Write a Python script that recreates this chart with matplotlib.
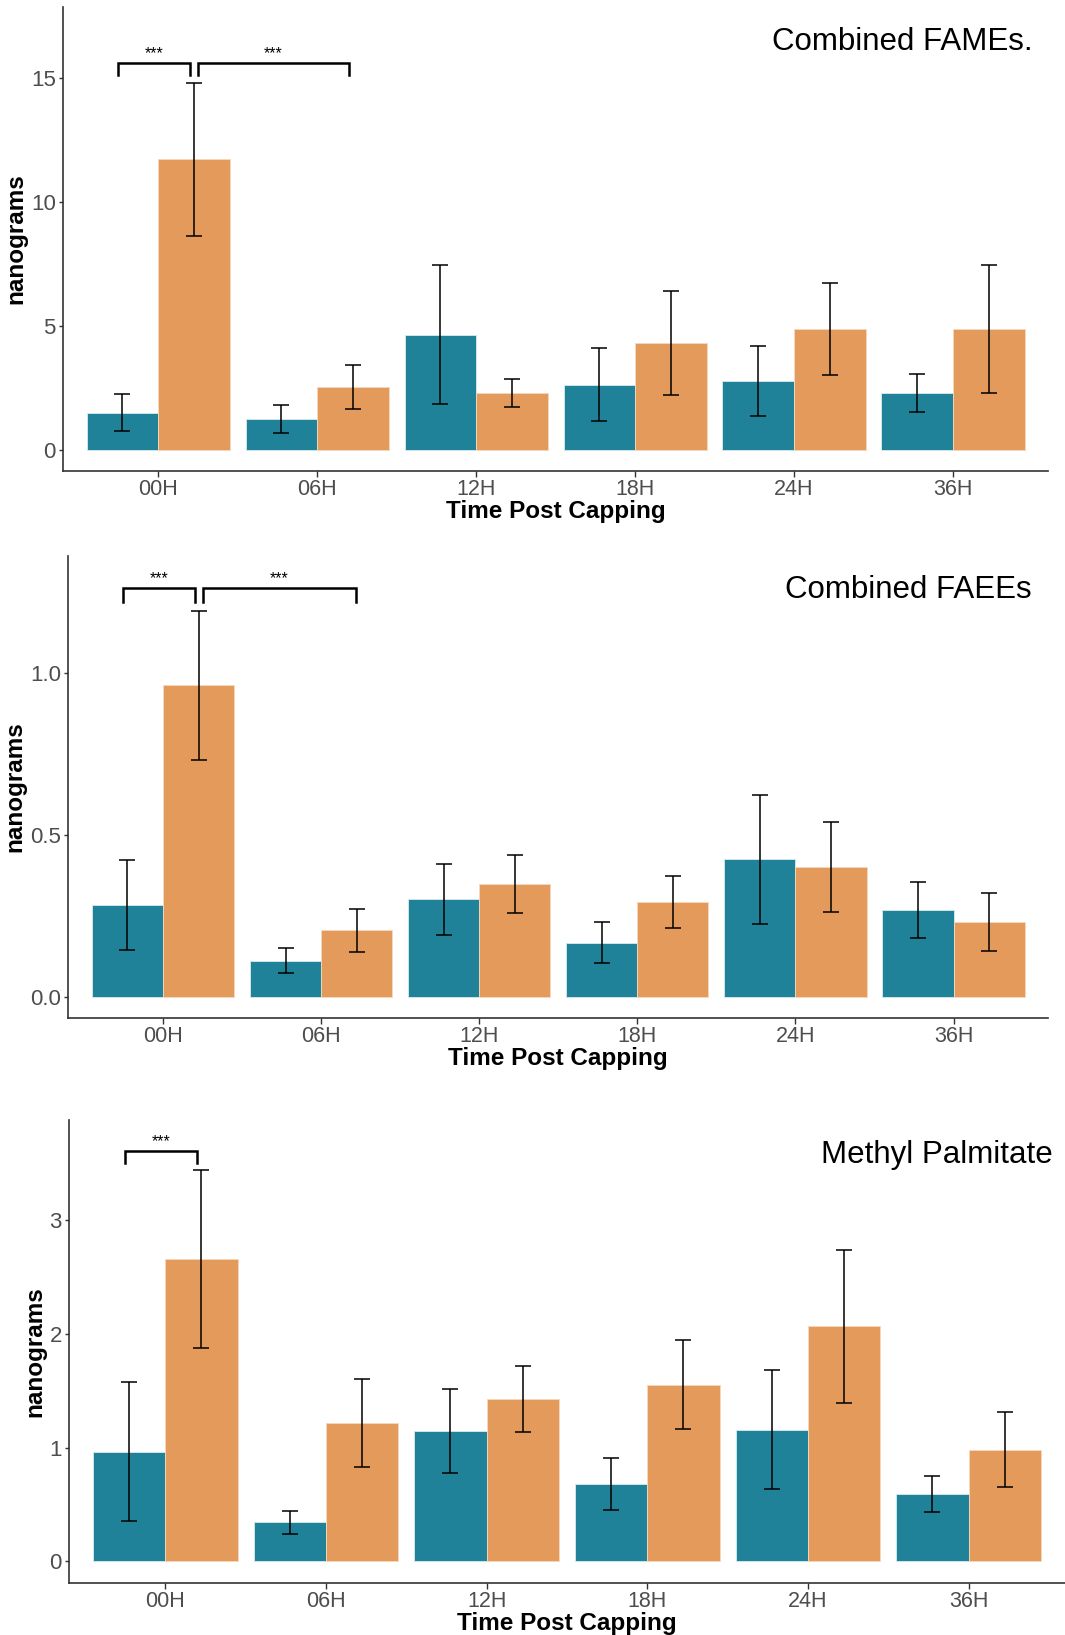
import matplotlib as mpl
mpl.use('Agg')
import matplotlib.pyplot as plt
import numpy as np

plt.rcParams['font.family'] = ['Liberation Sans', 'DejaVu Sans']

times = ['00H', '06H', '12H', '18H', '24H', '36H']
teal = '#1F8299'
orange = '#E39A5A'

# Combined FAMEs
fame_a = [1.50, 1.25, 4.65, 2.62, 2.78, 2.29]
fame_a_err = [0.76, 0.57, 2.80, 1.47, 1.43, 0.75]
fame_b = [11.73, 2.53, 2.29, 4.32, 4.87, 4.89]
fame_b_err = [3.10, 0.90, 0.55, 2.10, 1.86, 2.59]

# Combined FAEEs
faee_a = [0.285, 0.113, 0.303, 0.168, 0.426, 0.269]
faee_a_err = [0.138, 0.038, 0.110, 0.063, 0.199, 0.086]
faee_b = [0.964, 0.207, 0.350, 0.294, 0.403, 0.232]
faee_b_err = [0.230, 0.067, 0.090, 0.081, 0.139, 0.090]

# Methyl Palmitate
mp_a = [0.964, 0.344, 1.147, 0.680, 1.159, 0.590]
mp_a_err = [0.61, 0.103, 0.37, 0.225, 0.52, 0.157]
mp_b = [2.659, 1.219, 1.431, 1.554, 2.066, 0.982]
mp_b_err = [0.78, 0.385, 0.29, 0.39, 0.67, 0.33]

# significance brackets: (x0, x1, height, leg bottom)
fame_sig = [(-0.25, 0.20, 15.62, 15.14), (0.25, 1.20, 15.62, 15.14)]
faee_sig = [(-0.25, 0.20, 1.263, 1.220), (0.25, 1.22, 1.263, 1.220)]
mp_sig = [(-0.25, 0.20, 3.608, 3.506)]

panels = [
    dict(rect=[0.0589, 0.7122, 0.9255, 0.2835], a=fame_a, ae=fame_a_err, b=fame_b, be=fame_b_err,
         ylim=(-0.84, 17.88), yticks=[0, 5, 10, 15], ylabels=['0', '5', '10', '15'],
         title='Combined FAMEs.', tpos=(0.984, 0.924), sig=fame_sig),
    dict(rect=[0.0640, 0.3774, 0.9204, 0.2828], a=faee_a, ae=faee_a_err, b=faee_b, be=faee_b_err,
         ylim=(-0.064, 1.364), yticks=[0, 0.5, 1.0], ylabels=['0.0', '0.5', '1.0'],
         title='Combined FAEEs', tpos=(0.983, 0.926), sig=faee_sig),
    dict(rect=[0.0647, 0.0318, 0.9353, 0.2832], a=mp_a, ae=mp_a_err, b=mp_b, be=mp_b_err,
         ylim=(-0.19, 3.88), yticks=[0, 1, 2, 3], ylabels=['0', '1', '2', '3'],
         title='Methyl Palmitate', tpos=(0.988, 0.924), sig=mp_sig),
]

fig = plt.figure(figsize=(10.65, 16.35), dpi=100)
x = np.arange(len(times))
w = 0.45

for p in panels:
    ax = fig.add_axes(p['rect'])
    ax.bar(x - w / 2, p['a'], width=w, color=teal, edgecolor='#d9ecef', linewidth=0.6)
    ax.bar(x + w / 2, p['b'], width=w, color=orange, edgecolor='#f5d9bf', linewidth=0.6)
    ax.errorbar(x - w / 2, p['a'], yerr=p['ae'], fmt='none', ecolor='black',
                elinewidth=1.1, capsize=5.7, capthick=1.1)
    ax.errorbar(x + w / 2, p['b'], yerr=p['be'], fmt='none', ecolor='black',
                elinewidth=1.1, capsize=5.7, capthick=1.1)

    for x0, x1, h, leg in p['sig']:
        ax.plot([x0, x0, x1, x1], [leg, h, h, leg], color='black', lw=1.8,
                solid_joinstyle='miter')
        ax.text((x0 + x1) / 2, h + (p['ylim'][1] - p['ylim'][0]) * 0.004, '***',
                ha='center', va='bottom', fontsize=11.5)

    ax.set_xlim(-0.6, 5.6)
    ax.set_ylim(*p['ylim'])
    ax.set_xticks(x)
    ax.set_xticklabels(times)
    ax.set_yticks(p['yticks'])
    ax.set_yticklabels(p['ylabels'])
    ax.tick_params(axis='x', colors='#333333', labelcolor='#4D4D4D', labelsize=15.5,
                   length=4, width=1, pad=2)
    ax.tick_params(axis='y', colors='#333333', labelcolor='#4D4D4D', labelsize=16,
                   length=3, width=1, pad=2)
    for s in ['top', 'right']:
        ax.spines[s].set_visible(False)
    for s in ['left', 'bottom']:
        ax.spines[s].set_color('#333333')
        ax.spines[s].set_linewidth(1.2)
    ax.set_xlabel('Time Post Capping', fontsize=17.5, fontweight='bold', labelpad=0)
    ax.set_ylabel('nanograms', fontsize=17.5, fontweight='bold', labelpad=2.5)
    ax.text(p['tpos'][0], p['tpos'][1], p['title'], transform=ax.transAxes,
            ha='right', va='center', fontsize=22.5)

fig.savefig('out.png', dpi=100)
